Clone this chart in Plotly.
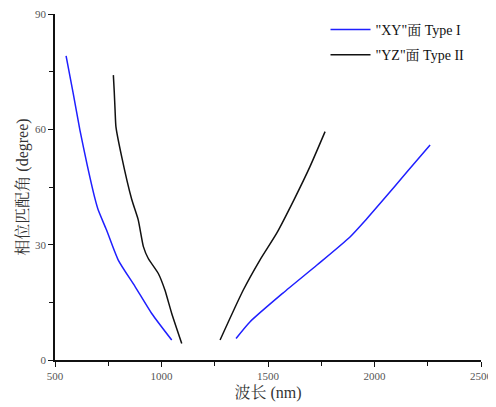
import plotly.graph_objects as go

# Blue: "XY" plane Type I (two branches)
xy_left_x = [552, 585, 617, 652, 688, 703, 742, 797, 876, 954, 1048]
xy_left_y = [79.1, 69.5, 59.8, 50.5, 41.9, 39.0, 33.8, 26.0, 19.1, 12.1, 5.2]
xy_right_x = [1350, 1415, 1570, 1730, 1885, 1960, 2040, 2152, 2261]
xy_right_y = [5.6, 9.9, 17.4, 24.7, 32.0, 36.5, 41.6, 48.9, 55.9]

# Black: "YZ" plane Type II (two branches)
yz_left_x = [774, 778, 782, 786, 813, 860, 891, 915, 938, 985, 1016, 1048, 1095]
yz_left_y = [74.1, 70, 65.0, 60.7, 52.9, 41.8, 36.4, 29.5, 26.4, 22.5, 18.2, 12.1, 4.3]
yz_right_x = [1275, 1384, 1462, 1541, 1623, 1697, 1768]
yz_right_y = [5.2, 18.2, 26.0, 33.0, 41.8, 50.3, 59.4]

fig = go.Figure()
common = dict(mode="lines", line_shape="spline")
fig.add_trace(go.Scatter(x=xy_left_x, y=xy_left_y, **common,
                         line=dict(color="#1f1fff", width=1.5, smoothing=0.6), name='"XY"面 Type I',
                         legendgroup="xy"))
fig.add_trace(go.Scatter(x=xy_right_x, y=xy_right_y, **common,
                         line=dict(color="#1f1fff", width=1.5, smoothing=0.6), name='"XY"面 Type I',
                         legendgroup="xy", showlegend=False))
fig.add_trace(go.Scatter(x=yz_left_x, y=yz_left_y, **common,
                         line=dict(color="#111111", width=1.5, smoothing=0.5), name='"YZ"面 Type II',
                         legendgroup="yz"))
fig.add_trace(go.Scatter(x=yz_right_x, y=yz_right_y, **common,
                         line=dict(color="#111111", width=1.5, smoothing=0.6), name='"YZ"面 Type II',
                         legendgroup="yz", showlegend=False))

serif = "Liberation Serif, Noto Serif CJK SC, Noto Sans CJK SC, serif"
fig.update_layout(
    width=488, height=399,
    margin=dict(l=47, r=15, t=6, b=47, autoexpand=False),
    paper_bgcolor="white", plot_bgcolor="white",
    font=dict(family=serif, color="#222", size=12),
    showlegend=True,
    legend=dict(x=0.635, y=1.0, xanchor="left", yanchor="top",
                bgcolor="rgba(0,0,0,0)", font=dict(size=14, family=serif, color="#111"),
                tracegroupgap=4, itemwidth=40),
    xaxis=dict(range=[500, 2500], tickvals=[500, 1000, 1500, 2000, 2500], automargin=False,
               ticklabeloverflow="allow",
               showgrid=False, zeroline=False, showline=True, linecolor="#111", linewidth=1.5,
               ticks="outside", ticklen=5, tickwidth=1.2, tickcolor="#111",
               minor=dict(dtick=250, ticks="outside", ticklen=4, tickcolor="#111"),
               tickfont=dict(size=11, color="#555"),
               title=dict(text="波长 (nm)", font=dict(size=16, color="#333"), standoff=6)),
    yaxis=dict(range=[0, 90], tickvals=[0, 30, 60, 90], automargin=False,
               ticklabeloverflow="allow",
               showgrid=False, zeroline=False, showline=True, linecolor="#111", linewidth=1.5,
               ticks="outside", ticklen=5, tickwidth=1.2, tickcolor="#111",
               minor=dict(dtick=15, ticks="outside", ticklen=4, tickcolor="#111"),
               tickfont=dict(size=11, color="#555"),
               title=dict(text="相位匹配角 (degree)", font=dict(size=16, color="#333"), standoff=2)),
)

fig.write_html("out.html")
